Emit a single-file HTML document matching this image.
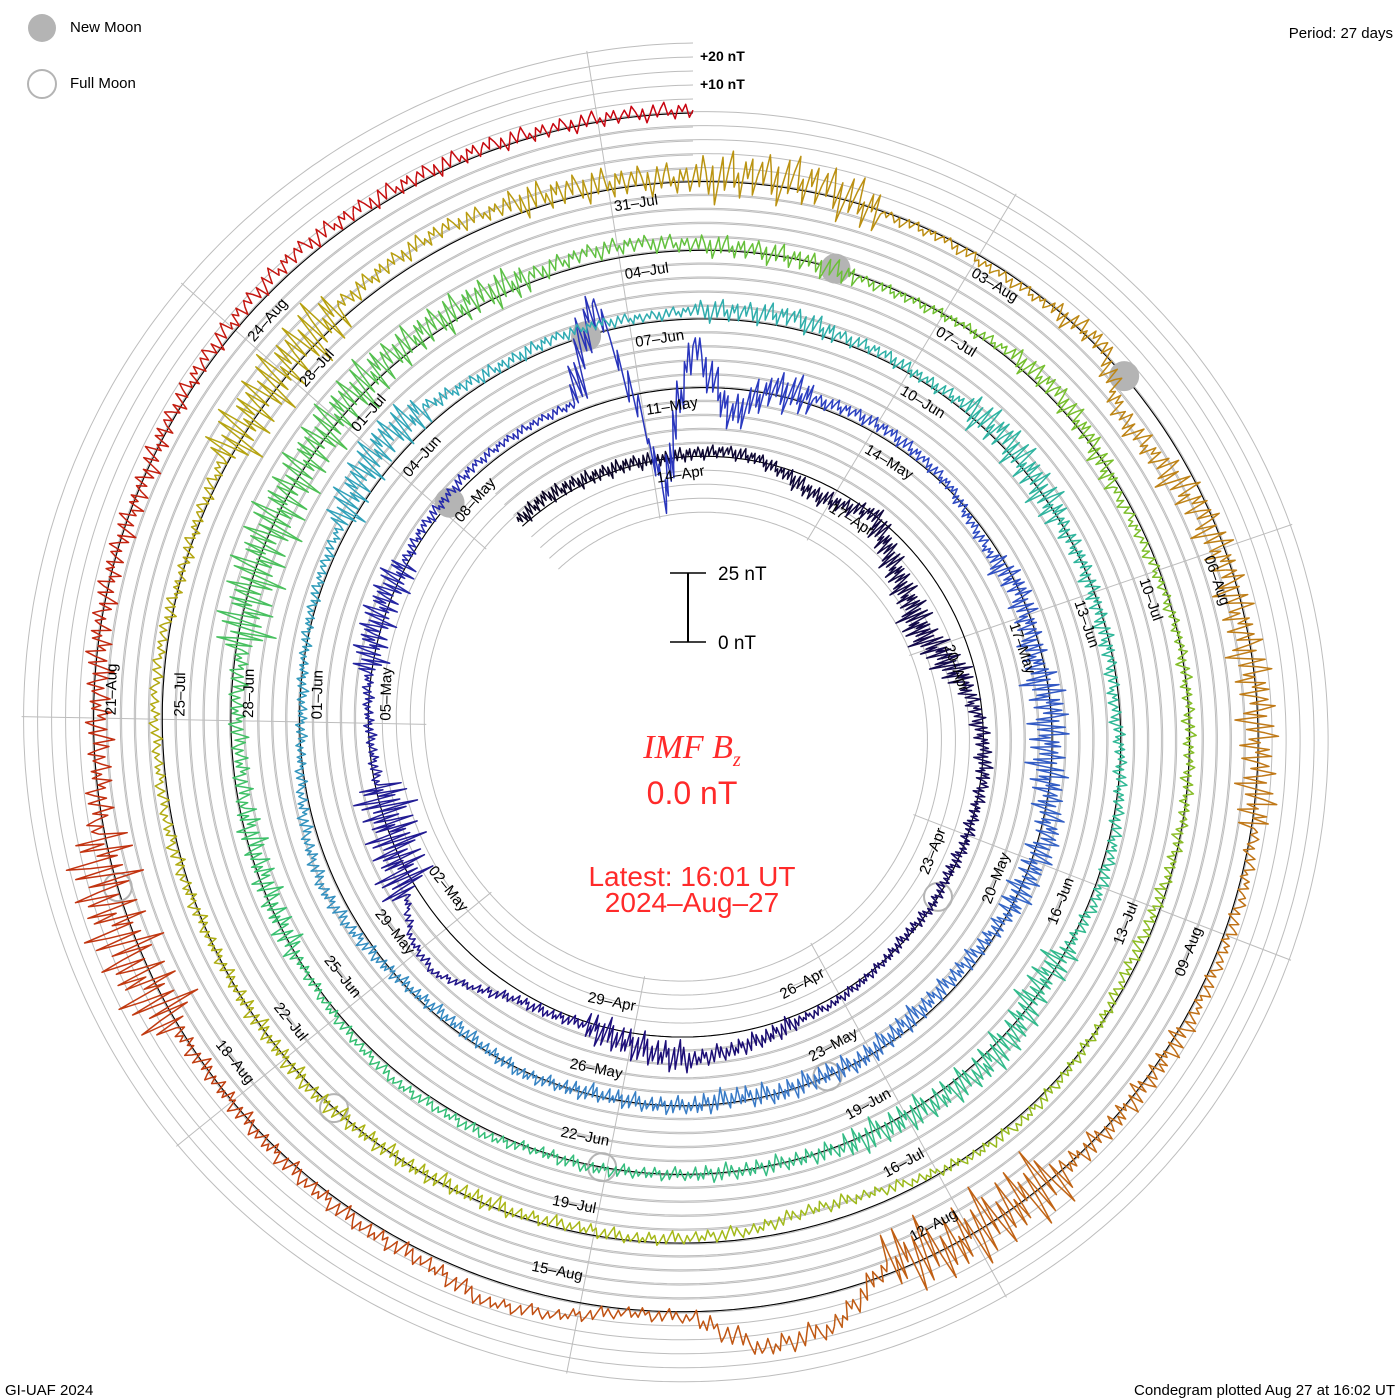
<!DOCTYPE html>
<html><head><meta charset="utf-8"><style>
html,body{margin:0;padding:0;background:#fff}
svg{display:block}
text{font-family:"Liberation Sans",sans-serif}
</style></head><body>
<svg id="chart" width="1400" height="1400" viewBox="0 0 1400 1400" xmlns="http://www.w3.org/2000/svg">
<rect width="1400" height="1400" fill="#fff"/>
<g id="grid"></g>
<g id="spokes"></g>
<g id="baseline"></g>
<g id="moons"></g>
<g id="series"></g>
<g id="labels"></g>

<g>
<circle cx="42" cy="28" r="14" fill="#b4b4b4"/>
<text x="70" y="28" font-size="15" dominant-baseline="middle">New Moon</text>
<circle cx="42" cy="84" r="14" fill="none" stroke="#b4b4b4" stroke-width="2"/>
<text x="70" y="84" font-size="15" dominant-baseline="middle">Full Moon</text>
</g>
<text x="1393" y="38" font-size="15" text-anchor="end">Period: 27 days</text>
<text x="700" y="61" font-size="14" font-weight="bold">+20 nT</text>
<text x="700" y="89" font-size="14" font-weight="bold">+10 nT</text>
<g>
<line x1="688" y1="573" x2="688" y2="642" stroke="#000" stroke-width="2"/>
<line x1="670" y1="573" x2="706" y2="573" stroke="#000" stroke-width="1.5"/>
<line x1="670" y1="642" x2="706" y2="642" stroke="#000" stroke-width="1.5"/>
<text x="718" y="580" font-size="19">25 nT</text>
<text x="718" y="649" font-size="19">0 nT</text>
</g>
<text x="692" y="758" font-size="34" fill="#ff2a2a" text-anchor="middle" font-style="italic" style="font-family:'Liberation Serif',serif">IMF  B<tspan font-size="20" dy="8">z</tspan></text>
<text x="692" y="804" font-size="32" fill="#ff2a2a" text-anchor="middle">0.0  nT</text>
<text x="692" y="886" font-size="28" fill="#ff2a2a" text-anchor="middle">Latest:  16:01  UT</text>
<text x="692" y="912" font-size="28" fill="#ff2a2a" text-anchor="middle">2024–Aug–27</text>
<text x="5" y="1395" font-size="15">GI-UAF 2024</text>
<text x="1395" y="1395" font-size="15" text-anchor="end">Condegram plotted Aug 27 at 16:02 UT</text>
</svg>
<script>
// Bz values (nT) every 12 h, each rotation starts at the top (angle 0)
const rot0 = [2,3,2,1,1,0]; // partial rotation, samples 48..53
const rot1 = [1,2,1,-2,-5,-4,0,-6,-10,-12,-14,-10,-5,-2,0,1,0,0,-1,0,-1,0,1,2,2,4,6,8,6,3,1,2,3,8,14,12,4,0,-2,-1,-1,0,1,2,2,1,2,2,3,3,3,3,35,-40];
const rot2 = [15,-10,2,2,3,3,2,1,-2,-3,0,-2,-3,0,-2,0,3,1,0,-2,-3,-3,-2,0,-1,0,-2,0,0,-1,0,1,-1,-2,-1,1,3,5,4,2,0,-1,0,1,2,3,6,8,6,3,2,3,3,2];
const rot3 = [3,3,4,2,2,1,2,3,1,0,0,-1,-1,-2,0,1,2,2,0,-2,2,3,2,1,1,0,0,0,0,1,0,2,2,3,2,1,0,-1,-2,-2,-3,-2,-2,-1,0,0,1,2,3,3,3,2,4,4];
const rot4 = [2,1,0,-1,-1,0,2,3,1,-2,-2,-1,0,0,0,0,-1,-2,-2,0,1,2,1,-2,-5,-6,-3,-2,-1,-2,-1,-1,0,0,1,0,0,0,1,2,2,3,2,0,1,2,2,3,4,5,6,4,3,2];
const rot5 = [1,3,3,-1,-1,-2,-1,2,-10,-8,-3,-2,-2,0,0,1,2,2,2,1,1,0,-1,0,-4,12,15,2,1,6,8,3,3,2,1,0,1,4,5,2,-2,-2,0,0,-1,1,2,3,4,3,2,2,1,1];
// variability (nT, peak-to-peak) per 1.5 days
const spread0 = [7,7];
const spread1 = [6,8,12,16,8,6,5,4,8,14,5,4,26,5,16,5,4,24];
const spread2 = [18,6,5,12,18,14,8,10,10,8,6,6,6,5,5,18,6,5];
const spread3 = [10,6,16,8,6,6,16,14,8,6,5,5,12,8,26,22,16,8];
const spread4 = [10,5,10,5,6,6,5,5,6,6,8,8,6,5,6,26,8,14];
const spread5 = [22,5,10,16,18,6,10,32,10,6,8,8,32,12,10,8,8,8];
const newMoons = ["2024-05-08T03:22Z","2024-06-06T12:38Z","2024-07-05T22:57Z","2024-08-04T11:13Z"];
const fullMoons = ["2024-04-23T23:49Z","2024-05-23T13:53Z","2024-06-22T01:08Z","2024-07-21T10:17Z","2024-08-19T18:26Z"];
const monthNames = ["Jan","Feb","Mar","Apr","May","Jun","Jul","Aug","Sep","Oct","Nov","Dec"];

const NS="http://www.w3.org/2000/svg";
const CX=693, CY=729.5, R_END=616.5, PITCH=68.7, PXNT=2.8, PERIOD=27, D_START=138;
const END=Date.UTC(2024,7,27,16,1);
function dOf(ms){return (END-ms)/86400000;}
function baseR(D){return R_END-PITCH*D/PERIOD;}
function angOf(D){return -D/PERIOD*2*Math.PI;}
function pt(D,off){const r=baseR(D)+off, a=angOf(D);return [CX+r*Math.sin(a), CY-r*Math.cos(a)];}
function mk(tag,attrs,parent){const e=document.createElementNS(NS,tag);for(const k in attrs)e.setAttribute(k,attrs[k]);parent.appendChild(e);return e;}

const grid=document.getElementById('grid');
for(let n=-4;n<=5;n++){
  let d='';
  for(let D=D_START;D>=-0.0001;D-=0.05){const p=pt(Math.max(D,0),n*14);d+=(d?'L':'M')+p[0].toFixed(1)+' '+p[1].toFixed(1);}
  const e=mk('path',{d:d,fill:'none',stroke:'#bdbdbd','stroke-width':1},grid);
  
  
}
{
  let d='';
  for(let D=D_START;D>=-0.0001;D-=0.05){const p=pt(Math.max(D,0),0);d+=(d?'L':'M')+p[0].toFixed(1)+' '+p[1].toFixed(1);}
  const e=mk('path',{d:d,fill:'none',stroke:'#000','stroke-width':1.1},document.getElementById('baseline'));
  
  
}
const ticks=[];
for(let t=Date.UTC(2024,3,14);t<=END;t+=3*86400000)ticks.push(t);
const spokes=document.getElementById('spokes');
for(let i=0;i<9;i++){
  const D0=dOf(ticks[ticks.length-1-i]);
  let Dmax=D0; while(Dmax+PERIOD<=D_START)Dmax+=PERIOD;
  const p1=pt(Dmax,-58), p2=pt(D0,72);
  const e=mk('line',{x1:p1[0],y1:p1[1],x2:p2[0],y2:p2[1],stroke:'#bdbdbd','stroke-width':1},spokes);
  
  
}
const labels=document.getElementById('labels');
ticks.forEach(t=>{
  const D=dOf(t); if(D<1)return; const dt=new Date(t);
  const txt=String(dt.getUTCDate()).padStart(2,'0')+'–'+monthNames[dt.getUTCMonth()];
  const p=pt(D,-22); let th=(-D/PERIOD*360)%360; if(th<0)th+=360;
  const flip=th>90&&th<270;
  const g=mk('g',{transform:`translate(${p[0].toFixed(1)},${p[1].toFixed(1)}) rotate(${(flip?th-180:th).toFixed(2)})`},labels);
  const e=mk('text',{x:flip?-3:3,y:0,'font-size':15,'text-anchor':flip?'end':'start'},g);
  e.textContent=txt;
  
  
});
const moons=document.getElementById('moons');
newMoons.forEach(s=>{const D=dOf(Date.parse(s)); if(D>D_START||D<0)return; const p=pt(D,0);
  const e=mk('circle',{cx:p[0],cy:p[1],r:15,fill:'#b4b4b4'},moons);
  
  });
fullMoons.forEach(s=>{const D=dOf(Date.parse(s)); if(D>D_START||D<0)return; const p=pt(D,0);
  const e=mk('circle',{cx:p[0],cy:p[1],r:14,fill:'none',stroke:'#b4b4b4','stroke-width':2},moons);
  
  });

const cstops=[[138,[10,5,32]],[120,[30,15,128]],[108,[42,56,192]],[96,[58,120,200]],[84,[48,168,184]],[75,[48,184,152]],[63,[56,192,112]],[52,[112,192,48]],[40,[168,184,24]],[30,[184,160,16]],[20,[192,120,24]],[10,[192,64,16]],[0,[200,0,16]]];
function colorAt(D){for(let i=0;i<cstops.length-1;i++){const a=cstops[i],b=cstops[i+1];if(D<=a[0]&&D>=b[0]){const f=(a[0]-D)/(a[0]-b[0]);const c=a[1].map((v,k)=>Math.round(v+(b[1][k]-v)*f));return `rgb(${c[0]},${c[1]},${c[2]})`;}}return 'rgb(200,0,16)';}

const rots=[rot0,rot1,rot2,rot3,rot4,rot5], sps=[spread0,spread1,spread2,spread3,spread4,spread5];
const samples=[];
rots.forEach((arr,k)=>{const j0=(k===0)?48:0;arr.forEach((v,i)=>{const j=j0+i;samples.push({D:PERIOD*(6-k)-0.5*j,v:v,s:sps[k][Math.floor(i/3)]});});});
samples.push({D:0,v:rot5[rot5.length-1],s:spread5[spread5.length-1]});
const zig=[0,0.5,-0.3,0.8,0.2,-0.6,0.4,-1,-0.2,0.7,-0.5,0.3,0.9,-0.4,0.1,-0.8,0.5,-0.1,0.6,-0.7];
const series=document.getElementById('series');
for(let i=0;i<samples.length-1;i++){
  const a=samples[i],b=samples[i+1];const N=zig.length;let d='';
  for(let k=0;k<=N;k++){const f=k/N;const D=a.D+(b.D-a.D)*f;const v=a.v+(b.v-a.v)*f+(k<N?zig[k]*a.s*0.45:0);
    const p=pt(D,v*PXNT);d+=(k?'L':'M')+p[0].toFixed(1)+' '+p[1].toFixed(1);}
  const e=mk('path',{d:d,fill:'none',stroke:colorAt(a.D),'stroke-width':1.5,'stroke-linejoin':'round'},series);
  
  
}
</script>
</body></html>
